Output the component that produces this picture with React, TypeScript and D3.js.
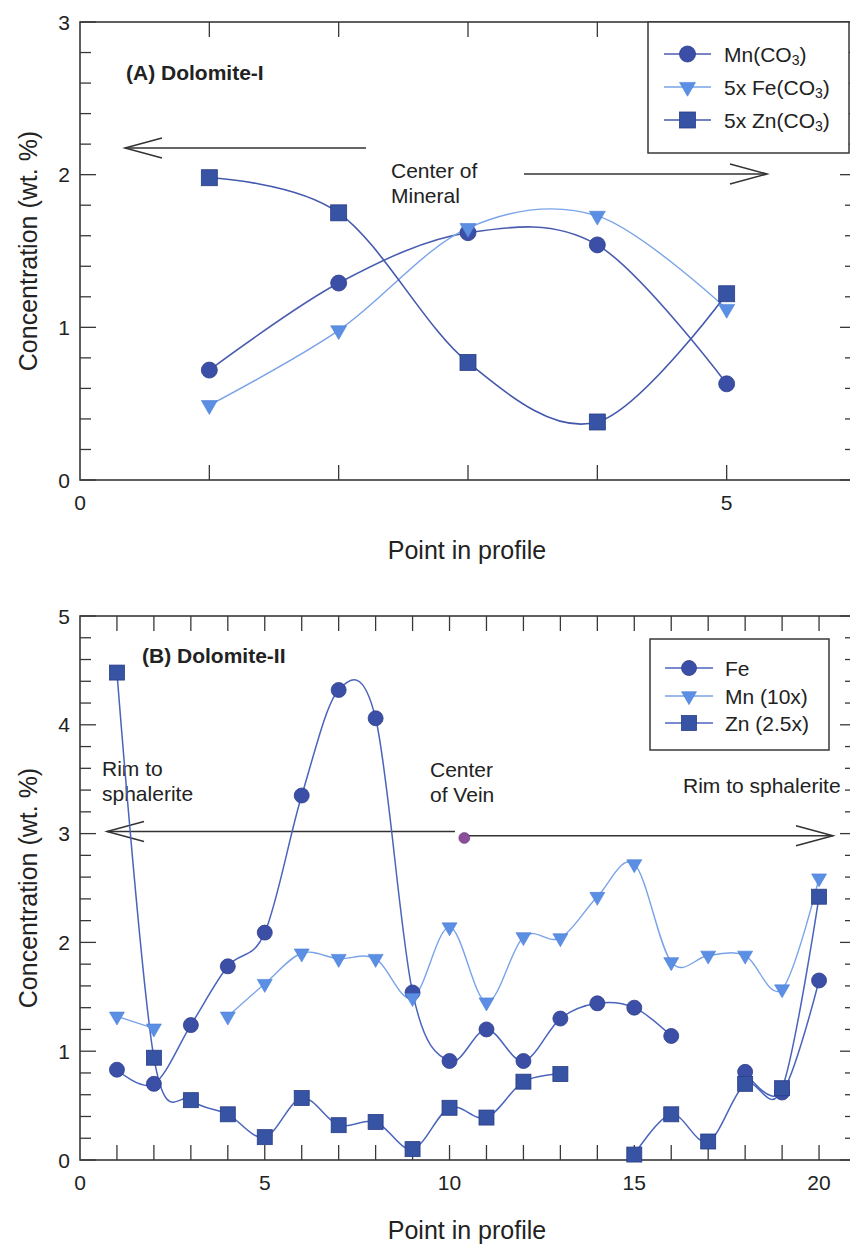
import React from "react";
import * as d3 from "d3";

// ---- Panel A: Dolomite-I profile ----
const profileA = [1, 2, 3, 4, 5];
const mnCO3 = [0.72, 1.29, 1.62, 1.54, 0.63];
const fe5xCO3 = [0.49, 0.98, 1.65, 1.73, 1.12];
const zn5xCO3 = [1.98, 1.75, 0.77, 0.38, 1.22];
const xTicksA = [0, 5];
const yTicksA = [0, 1, 2, 3];

// ---- Panel B: Dolomite-II profile (null = not measured) ----
const profileB = [1, 2, 3, 4, 5, 6, 7, 8, 9, 10, 11, 12, 13, 14, 15, 16, 17, 18, 19, 20];
const feB = [0.83, 0.7, 1.24, 1.78, 2.09, 3.35, 4.32, 4.06, 1.54, 0.91, 1.2, 0.91, 1.3, 1.44, 1.4, 1.14, null, 0.81, 0.62, 1.65];
const mn10xB = [1.32, 1.21, null, 1.32, 1.62, 1.9, 1.85, 1.85, 1.49, 2.14, 1.45, 2.05, 2.04, 2.42, 2.72, 1.82, 1.88, 1.88, 1.57, 2.59];
const zn25xB = [4.48, 0.94, 0.55, 0.42, 0.21, 0.57, 0.32, 0.35, 0.1, 0.48, 0.39, 0.72, 0.79, null, 0.05, 0.42, 0.17, 0.7, 0.66, 2.42];
const xTicksB = [0, 5, 10, 15, 20];
const yTicksB = [0, 1, 2, 3, 4, 5];

const FONT = "'Liberation Sans', Arial, Helvetica, sans-serif";
const AXIS = "#383838";
const TEXT = "#222";

type Marker = "circle" | "triangle" | "square";
type Series = {
  values: (number | null)[];
  marker: Marker;
  fill: string;
  stroke: string;
  line: string;
  lineWidth: number;
};

const DARK_CIRCLE = { fill: "#3c4fa6", stroke: "#2d3d8c", line: "#4a5cb0" };
const LIGHT_TRI = { fill: "#5a8fe3", stroke: "#4b7fd6", line: "#79a3e9" };
const DARK_SQUARE = { fill: "#3753a3", stroke: "#283d87", line: "#4459ad" };

function MarkerShape({ type, x, y, size, fill, stroke }: { type: Marker; x: number; y: number; size: number; fill: string; stroke: string }) {
  if (type === "circle") {
    return <circle cx={x} cy={y} r={size / 2} fill={fill} stroke={stroke} strokeWidth={0.8} />;
  }
  if (type === "square") {
    return <rect x={x - size / 2} y={y - size / 2} width={size} height={size} fill={fill} stroke={stroke} strokeWidth={0.8} />;
  }
  const area = (Math.sqrt(3) / 4) * size * size;
  const d = d3.symbol().type(d3.symbolTriangle).size(area)() || "";
  return <path d={d} transform={`translate(${x},${y}) rotate(180)`} fill={fill} stroke={stroke} strokeWidth={0.6} />;
}

type PanelProps = {
  top: number;
  bottom: number;
  left: number;
  right: number;
  xDomain: [number, number];
  yDomain: [number, number];
  xs: number[];
  series: Series[];
  xTickLabels: number[];
  xTickMarks: number[];
  yTickLabels: number[];
  markerSize: number;
  children?: (x: d3.ScaleLinear<number, number>, y: d3.ScaleLinear<number, number>) => React.ReactNode;
};

function Panel(p: PanelProps) {
  const x = d3.scaleLinear().domain(p.xDomain).range([p.left, p.right]);
  const y = d3.scaleLinear().domain(p.yDomain).range([p.bottom, p.top]);
  const minor = d3.range(p.yDomain[0], p.yDomain[1] + 1e-9, 0.2);
  const line = d3
    .line<[number, number | null]>()
    .defined((d) => d[1] != null)
    .x((d) => x(d[0]))
    .y((d) => y(d[1] as number))
    .curve(d3.curveCardinal.tension(0));

  return (
    <g>
      {/* frame */}
      <rect x={p.left} y={p.top} width={p.right - p.left} height={p.bottom - p.top} fill="none" stroke={AXIS} strokeWidth={1.6} />
      {/* y ticks, both sides, pointing inward */}
      {minor.map((v, i) => {
        const major = Math.abs(v - Math.round(v)) < 1e-6;
        const len = major ? 16 : 11;
        return (
          <g key={`yt${i}`} stroke={AXIS} strokeWidth={1.3}>
            <line x1={p.left} x2={p.left + len} y1={y(v)} y2={y(v)} />
            <line x1={p.right} x2={p.right - len} y1={y(v)} y2={y(v)} />
          </g>
        );
      })}
      {/* x ticks, bottom and top */}
      {p.xTickMarks.map((v) => (
        <g key={`xt${v}`} stroke={AXIS} strokeWidth={1.3}>
          <line x1={x(v)} x2={x(v)} y1={p.bottom} y2={p.bottom - 15} />
          <line x1={x(v)} x2={x(v)} y1={p.top} y2={p.top + 15} />
        </g>
      ))}
      {p.yTickLabels.map((v) => (
        <text key={`yl${v}`} x={p.left - 10} y={y(v)} textAnchor="end" dominantBaseline="central" fontFamily={FONT} fontSize={21} fill={TEXT}>
          {v}
        </text>
      ))}
      {p.xTickLabels.map((v) => (
        <text key={`xl${v}`} x={x(v)} y={p.bottom + 22} textAnchor="middle" dominantBaseline="central" fontFamily={FONT} fontSize={21} fill={TEXT}>
          {v}
        </text>
      ))}
      <text x={467} y={p.bottom + 70} textAnchor="middle" dominantBaseline="central" fontFamily={FONT} fontSize={25} fill={TEXT}>
        Point in profile
      </text>
      <text
        transform={`translate(28,${(p.top + p.bottom) / 2}) rotate(-90)`}
        textAnchor="middle"
        dominantBaseline="central"
        fontFamily={FONT}
        fontSize={25}
        fill={TEXT}
      >
        Concentration (wt. %)
      </text>
      {p.children ? p.children(x, y) : null}
      {/* curves */}
      {p.series.map((s, i) => (
        <path
          key={`ln${i}`}
          d={line(p.xs.map((xv, j) => [xv, s.values[j]] as [number, number | null])) || ""}
          fill="none"
          stroke={s.line}
          strokeWidth={s.lineWidth}
        />
      ))}
      {/* markers */}
      {p.series.map((s, i) =>
        p.xs.map((xv, j) =>
          s.values[j] == null ? null : (
            <MarkerShape key={`m${i}-${j}`} type={s.marker} x={x(xv)} y={y(s.values[j] as number)} size={p.markerSize} fill={s.fill} stroke={s.stroke} />
          )
        )
      )}
    </g>
  );
}

function Legend({ x, y, w, h, rows, lineX1, lineX2, textX, items, markerSize }: {
  x: number; y: number; w: number; h: number; rows: number[]; lineX1: number; lineX2: number; textX: number;
  items: { label: React.ReactNode; series: Series }[]; markerSize: number;
}) {
  return (
    <g>
      <rect x={x} y={y} width={w} height={h} fill="#fff" stroke={AXIS} strokeWidth={1.5} />
      {items.map((it, i) => (
        <g key={i}>
          <line x1={lineX1} x2={lineX2} y1={rows[i]} y2={rows[i]} stroke={it.series.line} strokeWidth={1.5} />
          <MarkerShape type={it.series.marker} x={(lineX1 + lineX2) / 2} y={rows[i]} size={markerSize} fill={it.series.fill} stroke={it.series.stroke} />
          <text x={textX} y={rows[i]} dominantBaseline="central" fontFamily={FONT} fontSize={21} fill={TEXT}>
            {it.label}
          </text>
        </g>
      ))}
    </g>
  );
}

function Carbonate({ prefix }: { prefix: string }) {
  return (
    <>
      {prefix}(CO
      <tspan fontSize={14} dy={6}>3</tspan>
      <tspan dy={-6}>)</tspan>
    </>
  );
}

function OpenArrow({ x1, x2, y, head = 37, spread = 10 }: { x1: number; x2: number; y: number; head?: number; spread?: number }) {
  const dir = Math.sign(x2 - x1);
  return (
    <g stroke="#333" strokeWidth={1.5} fill="none">
      <line x1={x1} x2={x2} y1={y} y2={y} />
      <path d={`M${x2 - dir * head},${y - spread} L${x2},${y} L${x2 - dir * head},${y + spread}`} />
    </g>
  );
}

export default function App() {
  const seriesA: Series[] = [
    { values: mnCO3, marker: "circle", ...DARK_CIRCLE, lineWidth: 1.6 },
    { values: fe5xCO3, marker: "triangle", ...LIGHT_TRI, lineWidth: 1.4 },
    { values: zn5xCO3, marker: "square", ...DARK_SQUARE, lineWidth: 1.6 },
  ];
  const seriesB: Series[] = [
    { values: feB, marker: "circle", ...DARK_CIRCLE, line: "#4a64bd", lineWidth: 1.5 },
    { values: mn10xB, marker: "triangle", ...LIGHT_TRI, lineWidth: 1.4 },
    { values: zn25xB, marker: "square", ...DARK_SQUARE, line: "#4a64bd", lineWidth: 1.5 },
  ];

  return (
    <svg width={850} height={1247} style={{ position: "absolute", left: 0, top: 0, background: "#fff" }}>
      <rect x={0} y={0} width={850} height={1247} fill="#fff" />

      <Panel
        top={22}
        bottom={480}
        left={80}
        right={856}
        xDomain={[0, 6]}
        yDomain={[0, 3]}
        xs={profileA}
        series={seriesA}
        xTickLabels={xTicksA}
        xTickMarks={profileA}
        yTickLabels={yTicksA}
        markerSize={16}
      >
        {() => (
          <g>
            <text x={126} y={72} dominantBaseline="central" fontFamily={FONT} fontSize={21} fontWeight="bold" fill={TEXT}>
              (A) Dolomite-I
            </text>
            <OpenArrow x1={366} x2={125} y={148} />
            <OpenArrow x1={524} x2={767} y={174} />
            <text fontFamily={FONT} fontSize={21} fill={TEXT}>
              <tspan x={391} y={170} dominantBaseline="central">Center of</tspan>
              <tspan x={391} y={195} dominantBaseline="central">Mineral</tspan>
            </text>
          </g>
        )}
      </Panel>
      <Legend
        x={648}
        y={22}
        w={201}
        h={131}
        rows={[54, 87, 120]}
        lineX1={664}
        lineX2={711}
        textX={724}
        markerSize={16}
        items={[
          { label: <Carbonate prefix="Mn" />, series: seriesA[0] },
          { label: <Carbonate prefix="5x Fe" />, series: seriesA[1] },
          { label: <Carbonate prefix="5x Zn" />, series: seriesA[2] },
        ]}
      />

      <Panel
        top={616}
        bottom={1160}
        left={80}
        right={856}
        xDomain={[0, 21]}
        yDomain={[0, 5]}
        xs={profileB}
        series={seriesB}
        xTickLabels={xTicksB}
        xTickMarks={profileB}
        yTickLabels={yTicksB}
        markerSize={15}
      >
        {(x, y) => (
          <g>
            <text x={142} y={655} dominantBaseline="central" fontFamily={FONT} fontSize={21} fontWeight="bold" fill={TEXT}>
              (B) Dolomite-II
            </text>
            <text fontFamily={FONT} fontSize={21} fill={TEXT}>
              <tspan x={102} y={768} dominantBaseline="central">Rim to</tspan>
              <tspan x={102} y={793} dominantBaseline="central">sphalerite</tspan>
            </text>
            <text fontFamily={FONT} fontSize={21} fill={TEXT}>
              <tspan x={430} y={769} dominantBaseline="central">Center</tspan>
              <tspan x={430} y={794} dominantBaseline="central">of Vein</tspan>
            </text>
            <text x={683} y={785} dominantBaseline="central" fontFamily={FONT} fontSize={21} fill={TEXT}>
              Rim to sphalerite
            </text>
            <OpenArrow x1={455} x2={107} y={y(3.02)} spread={10} />
            <OpenArrow x1={468} x2={833} y={y(2.98)} spread={10} />
            <circle cx={x(10.4)} cy={y(2.96)} r={5.5} fill="#8a4f98" stroke="#6d3a7d" strokeWidth={0.6} />
          </g>
        )}
      </Panel>
      <Legend
        x={650}
        y={639}
        w={179}
        h={111}
        rows={[668, 696, 723]}
        lineX1={665}
        lineX2={713}
        textX={725}
        markerSize={15}
        items={[
          { label: "Fe", series: seriesB[0] },
          { label: "Mn (10x)", series: seriesB[1] },
          { label: "Zn (2.5x)", series: seriesB[2] },
        ]}
      />
    </svg>
  );
}
